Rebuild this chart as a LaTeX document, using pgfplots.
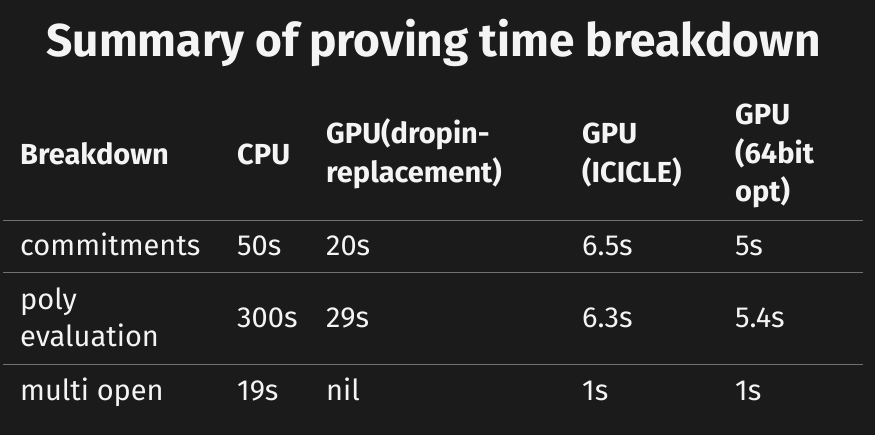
\documentclass[border=0pt]{standalone}
\usepackage{pgfplots}
\pgfplotsset{compat=1.18}
\usepackage{fontspec}
\setmainfont{Fira Sans}
\definecolor{bg}{HTML}{1B1B1B}
\definecolor{rule}{HTML}{707070}
\definecolor{fg}{HTML}{F4F4F4}
\tikzset{
    cell/.style={text=fg, anchor=base west, inner sep=0pt, font=\fontsize{29}{36}\selectfont},
    head/.style={cell, font=\fontsize{29}{36}\selectfont\bfseries},
}
\begin{document}
\begin{tikzpicture}
\begin{axis}[
    width=875pt, height=435pt, scale only axis,
    xmin=0, xmax=875, ymin=0, ymax=435,
    y dir=reverse,
    axis lines=none,
    clip=false,
]
\fill[bg] (axis cs:0,0) rectangle (axis cs:875,435);

% title
\node[text=fg, inner sep=0pt, anchor=base, font=\fontsize{46}{52}\selectfont\bfseries] at (axis cs:433.5,57) {Summary of proving time breakdown};

% header
\node[head] at (axis cs:20,164.5) {Breakdown};
\node[head] at (axis cs:237,164.5) {CPU};
\node[head] at (axis cs:326,144) {GPU(dropin-};
\node[head] at (axis cs:326,183) {replacement)};
\node[head] at (axis cs:582,144) {GPU};
\node[head] at (axis cs:582,183) {(ICICLE)};
\node[head] at (axis cs:735,125) {GPU};
\node[head] at (axis cs:735,164) {(64bit};
\node[head] at (axis cs:735,202) {opt)};

% rules
\addplot[rule, line width=1.8pt] coordinates {(3,220.5) (863,220.5)};
\addplot[rule, line width=1.8pt] coordinates {(3,272.5) (863,272.5)};
\addplot[rule, line width=1.8pt] coordinates {(3,364.5) (863,364.5)};

% row 1
\node[cell] at (axis cs:20,256) {commitments};
\node[cell] at (axis cs:237,256) {50s};
\node[cell] at (axis cs:326,256) {20s};
\node[cell] at (axis cs:582,256) {6.5s};
\node[cell] at (axis cs:735,256) {5s};
% row 2
\node[cell] at (axis cs:20,310) {poly};
\node[cell] at (axis cs:20,347) {evaluation};
\node[cell] at (axis cs:237,328) {300s};
\node[cell] at (axis cs:326,328) {29s};
\node[cell] at (axis cs:582,328) {6.3s};
\node[cell] at (axis cs:735,328) {5.4s};
% row 3
\node[cell] at (axis cs:20,400) {multi open};
\node[cell] at (axis cs:237,400) {19s};
\node[cell] at (axis cs:326,400) {nil};
\node[cell] at (axis cs:582,400) {1s};
\node[cell] at (axis cs:735,400) {1s};
\end{axis}
\end{tikzpicture}
\end{document}
